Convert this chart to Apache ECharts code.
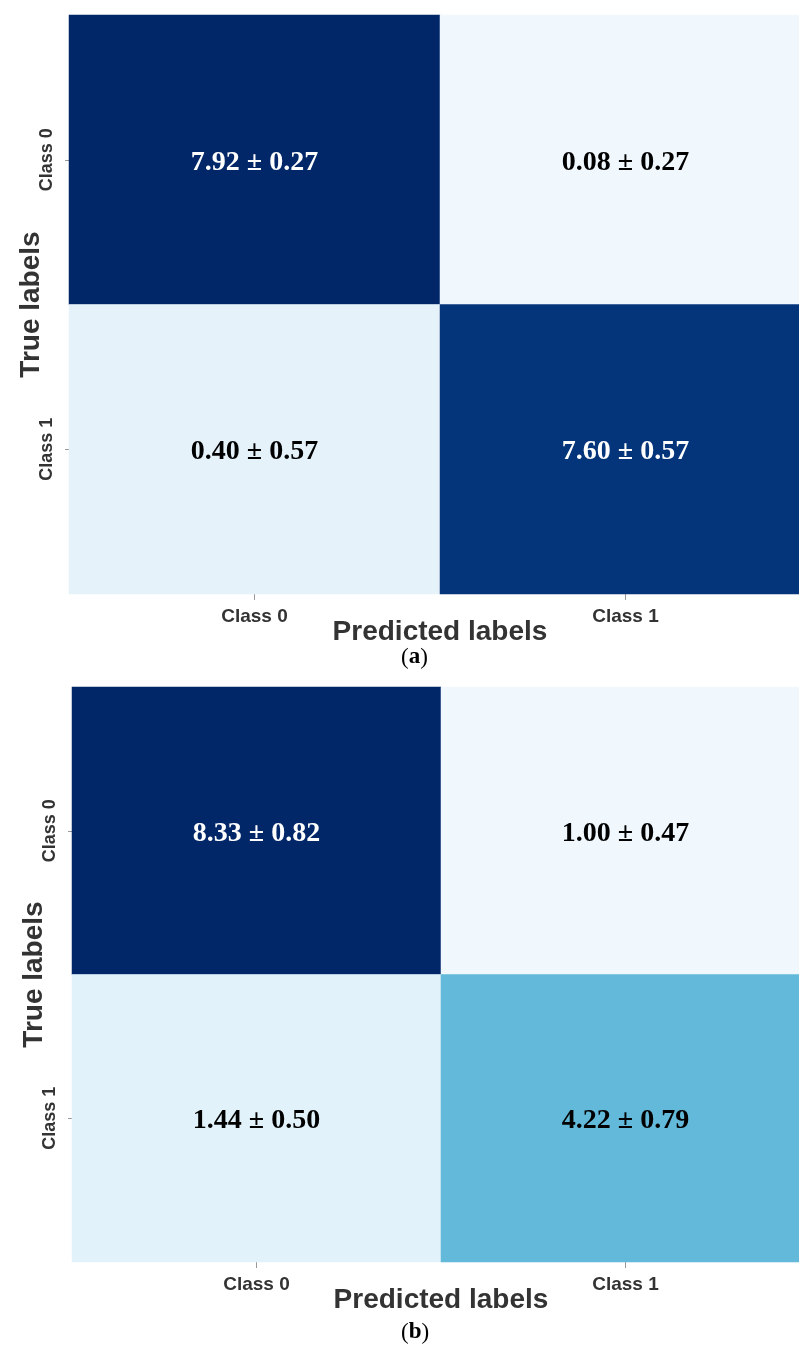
<!DOCTYPE html>
<html>
<head>
<meta charset="utf-8">
<script src="https://cdn.jsdelivr.net/npm/echarts@6/dist/echarts.min.js"></script>
<style>
  html, body { margin: 0; padding: 0; background: #ffffff; }
  #chart { width: 799px; height: 1347px; }
</style>
</head>
<body>
<div id="chart"></div>
<script>
// Class names shared by both confusion matrices
const classes = ['Class 0', 'Class 1'];

// Panel (a): mean counts and standard deviations, rows = true class, cols = predicted class
const meanA = [[7.92, 0.08], [0.40, 7.60]];
const stdA  = [[0.27, 0.27], [0.57, 0.57]];

// Panel (b)
const meanB = [[8.33, 1.00], [1.44, 4.22]];
const stdB  = [[0.82, 0.47], [0.50, 0.79]];

// Panel captions
const captions = ['a', 'b'];

// Cell fills and value text colours
const fillA = [['#022768', '#f0f7fd'], ['#e6f2fa', '#04357a']];
const fillB = [['#022768', '#f0f7fd'], ['#e1f2fa', '#62b9d9']];
const inkA  = [['#ffffff', '#000000'], ['#000000', '#ffffff']];
const inkB  = [['#ffffff', '#000000'], ['#000000', '#000000']];

const panels = [
  { mean: meanA, std: stdA, fill: fillA, ink: inkA,
    grid: { left: 69, top: 15, width: 742, height: 579, outerBoundsMode: 'none', containLabel: false } },
  { mean: meanB, std: stdB, fill: fillB, ink: inkB,
    grid: { left: 72, top: 687, width: 738, height: 575, outerBoundsMode: 'none', containLabel: false } }
];

const axisLabelFont = {
  color: '#333333', fontFamily: 'Liberation Sans, Arial, sans-serif', fontWeight: 'bold', fontSize: 19
};
const axisNameFont = {
  color: '#333333', fontFamily: 'Liberation Sans, Arial, sans-serif', fontWeight: 'bold', fontSize: 28
};

const grids = [], xAxes = [], yAxes = [], series = [], graphics = [];

panels.forEach((p, k) => {
  grids.push(p.grid);
  xAxes.push({
    type: 'category', gridIndex: k, data: classes,
    axisLine: { show: false },
    axisTick: { show: true, alignWithLabel: true, length: 6, lineStyle: { color: '#999999', width: 1 } },
    axisLabel: Object.assign({ margin: 13 }, axisLabelFont),
    splitLine: { show: false },
    name: 'Predicted labels', nameLocation: 'middle', nameGap: 24, nameMoveOverlap: false,
    nameTextStyle: axisNameFont
  });
  yAxes.push({
    type: 'category', gridIndex: k, data: classes, inverse: true,
    axisLine: { show: false },
    axisTick: { show: true, alignWithLabel: true, length: 4, lineStyle: { color: '#999999', width: 1 } },
    axisLabel: Object.assign({ margin: 13, rotate: 90 }, axisLabelFont, { fontSize: 18 }),
    splitLine: { show: false },
    name: 'True labels', nameLocation: 'middle', nameGap: 24, nameMoveOverlap: false,
    nameTextStyle: axisNameFont
  });

  const data = [];
  for (let r = 0; r < classes.length; r++) {
    for (let c = 0; c < classes.length; c++) {
      data.push({
        value: [c, r, p.mean[r][c], p.std[r][c]],
        itemStyle: { color: p.fill[r][c] },
        label: { color: p.ink[r][c] }
      });
    }
  }
  series.push({
    type: 'heatmap', xAxisIndex: k, yAxisIndex: k, data: data,
    label: {
      show: true,
      fontFamily: 'Liberation Serif, Times New Roman, serif',
      fontWeight: 'bold', fontSize: 28, offset: [0, 3],
      formatter: (d) => d.value[2].toFixed(2) + ' \u00b1 ' + d.value[3].toFixed(2)
    },
    emphasis: { disabled: true }
  });
});

// Panel captions "(a)" and "(b)" below each matrix
[658, 1333].forEach((y, k) => {
  graphics.push({
    type: 'text', left: 412 - 11, top: y - 12,
    style: {
      text: '{p|(}{l|' + captions[k] + '}{p|)}',
      rich: {
        p: { fontFamily: 'Liberation Serif, serif', fontSize: 23, fill: '#000000' },
        l: { fontFamily: 'Liberation Serif, serif', fontSize: 23, fontWeight: 'bold', fill: '#000000' }
      }
    }
  });
});

const chart = echarts.init(document.getElementById('chart'), null, { renderer: 'canvas' });
chart.setOption({
  backgroundColor: '#ffffff',
  animation: false,
  grid: grids,
  xAxis: xAxes,
  yAxis: yAxes,
  series: series,
  graphic: graphics
});
</script>
</body>
</html>
